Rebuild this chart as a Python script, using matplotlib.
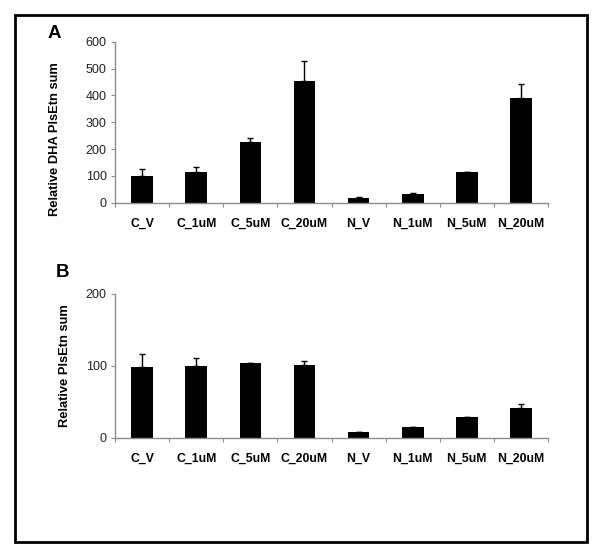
import numpy as np
import matplotlib
matplotlib.use("Agg")
import matplotlib.pyplot as plt
from matplotlib.patches import Rectangle

plt.rcParams['font.family'] = ['Liberation Sans', 'DejaVu Sans']

categories = ["C_V", "C_1uM", "C_5uM", "C_20uM", "N_V", "N_1uM", "N_5uM", "N_20uM"]

# panel A : DHA PlsEtn
dha_values = [100, 116, 228, 452, 16, 31, 114, 391]
dha_errors = [25, 18, 12, 77, 6, 6, 0, 50]

# panel B : total PlsEtn
pls_values = [99, 100, 103.5, 101, 8.5, 15.5, 28.5, 41.5]
pls_errors = [17, 11.5, 0, 6, 0, 0, 0, 5.5]

AXIS_GREY = "#8c8c8c"

fig = plt.figure(figsize=(6, 5.6), dpi=100)

# cadre noir autour de la figure
fig.patches.append(Rectangle((0.025, 0.033), 0.953, 0.94, transform=fig.transFigure,
                             fill=False, edgecolor="black", linewidth=2))

ax_a = fig.add_axes([0.1917, 0.638, 0.7217, 0.2875])
ax_b = fig.add_axes([0.1917, 0.2184, 0.7217, 0.2566])


def draw_panel(ax, values, errors, ymax, yticks, ylabel, label_xy):
    x = np.arange(len(categories))
    ax.bar(x, values, width=0.4, color="black")
    yerr = np.array([np.zeros(len(errors)), errors])
    ax.errorbar(x, values, yerr=yerr, fmt="none", ecolor="black",
                elinewidth=1, capsize=2.5, capthick=1)
    ax.set_xlim(-0.5, len(categories) - 0.5)
    ax.set_ylim(0, ymax)
    for side in ["top", "right"]:
        ax.spines[side].set_visible(False)
    for side in ["left", "bottom"]:
        ax.spines[side].set_color(AXIS_GREY)
        ax.spines[side].set_linewidth(1)
    ax.set_yticks(yticks)
    ax.set_yticklabels([str(t) for t in yticks], fontsize=9, color="#222222")
    ax.tick_params(axis="y", direction="out", length=3, color=AXIS_GREY, pad=3)
    # ticks x entre les catégories, libellés au centre
    ax.set_xticks(np.arange(len(categories) + 1) - 0.5)
    ax.set_xticklabels([])
    ax.set_xticks(x, minor=True)
    ax.set_xticklabels(categories, minor=True, fontsize=8.8, fontweight="bold")
    ax.tick_params(axis="x", which="major", direction="out", length=3, color=AXIS_GREY)
    ax.tick_params(axis="x", which="minor", length=0, pad=11)
    ax.set_ylabel(ylabel, fontsize=9.3, fontweight="bold")
    ax.yaxis.set_label_coords(*label_xy)


draw_panel(ax_a, dha_values, dha_errors, 600, [0, 100, 200, 300, 400, 500, 600],
           "Relative DHA PlsEtn sum", (-0.139, 0.396))
draw_panel(ax_b, pls_values, pls_errors, 200, [0, 100, 200], "Relative PlsEtn sum",
           (-0.116, 0.5))
for a in (ax_a, ax_b):
    a.yaxis.label.set_va("center")

fig.text(0.09, 0.941, "A", fontsize=13.5, fontweight="bold", ha="center", va="center")
fig.text(0.104, 0.514, "B", fontsize=13.5, fontweight="bold", ha="center", va="center")

plt.savefig("out.png", dpi=100)
